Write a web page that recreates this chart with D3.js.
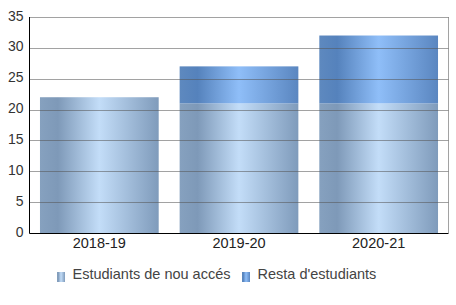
<!DOCTYPE html>
<html><head><meta charset="utf-8">
<script src="https://cdn.jsdelivr.net/npm/d3@7"></script>
<style>body{margin:0;background:#fff}svg{display:block;font-family:"Liberation Sans",Arial,sans-serif}</style>
</head><body><svg id="c" width="456" height="305"></svg>
<script>
const categories = ["2018-19","2019-20","2020-21"];
const newAccess = [22, 21, 21];
const rest = [0, 6, 11];
const yTicks = [0,5,10,15,20,25,30,35];
const seriesNames = ["Estudiants de nou accés","Resta d'estudiants"];

const svg = d3.select("#c");
const L=29.5, R=448.5, T=17, B=233;
const x = d3.scaleBand().domain(categories).range([L,R]).paddingInner(0.15).paddingOuter(0.075);
const y = d3.scaleLinear().domain([0,35]).range([B,T]);

const defs = svg.append("defs");
function grad(id, stops){
  const g = defs.append("linearGradient").attr("id",id).attr("x1","0").attr("x2","1").attr("y1","0").attr("y2","0");
  stops.forEach(s=>g.append("stop").attr("offset",s[0]).attr("stop-color",s[1]));
}
grad("gNew",[[0,"#86a1bf"],[0.15,"#7e99b8"],[0.5,"#c3ddf8"],[1,"#7f9bbb"]]);
grad("gRest",[[0,"#5e89bf"],[0.15,"#5582bc"],[0.5,"#8fbef8"],[1,"#5a86c0"]]);

const data = categories.map((c,i)=>({c, a:newAccess[i], b:rest[i]}));
svg.append("g").selectAll("rect").data(data).join("rect")
  .attr("x",d=>x(d.c)).attr("width",x.bandwidth())
  .attr("y",d=>y(d.a)).attr("height",d=>y(0)-y(d.a)).attr("fill","url(#gNew)");
svg.append("g").selectAll("rect").data(data.filter(d=>d.b>0)).join("rect")
  .attr("x",d=>x(d.c)).attr("width",x.bandwidth())
  .attr("y",d=>y(d.a+d.b)).attr("height",d=>y(d.a)-y(d.a+d.b)).attr("fill","url(#gRest)");

// gridlines
svg.append("g").selectAll("line").data(yTicks.filter(t=>t>0)).join("line")
  .attr("x1",L).attr("x2",R).attr("y1",d=>Math.round(y(d))+0.5).attr("y2",d=>Math.round(y(d))+0.5)
  .attr("stroke","#555").attr("stroke-opacity",0.55);
svg.append("line").attr("x1",R).attr("x2",R).attr("y1",T).attr("y2",B).attr("stroke","#555").attr("stroke-opacity",0.55);

// axes
const yAxis = svg.append("g").attr("transform",`translate(${L},0)`).call(d3.axisLeft(y).tickValues(yTicks).tickSize(0).tickPadding(6));
yAxis.select(".domain").attr("stroke","#000").attr("d",`M0,${T}V${B+0.5}`);
yAxis.selectAll("text").attr("font-size",14).attr("dy","0.22em").attr("fill","#333").attr("font-family","Liberation Sans, Arial, sans-serif");
const xAxis = svg.append("g").attr("transform",`translate(0,${B+0.5})`).call(d3.axisBottom(x).tickSize(0).tickPadding(4));
xAxis.select(".domain").attr("stroke","#000").attr("d",`M${L},0H${R}`);
xAxis.selectAll("text").attr("font-size",14.5).attr("fill","#222").attr("font-family","Liberation Sans, Arial, sans-serif");

// legend
const leg = svg.append("g");
const lx = [57, 242];
seriesNames.forEach((n,i)=>{
  leg.append("rect").attr("x",lx[i]).attr("y",272).attr("width",8).attr("height",10).attr("fill",i?"url(#gRest)":"url(#gNew)");
  leg.append("text").attr("x",lx[i]+15.5).attr("y",279).attr("font-size",14.5).attr("fill","#444").text(n);
});
</script></body></html>
